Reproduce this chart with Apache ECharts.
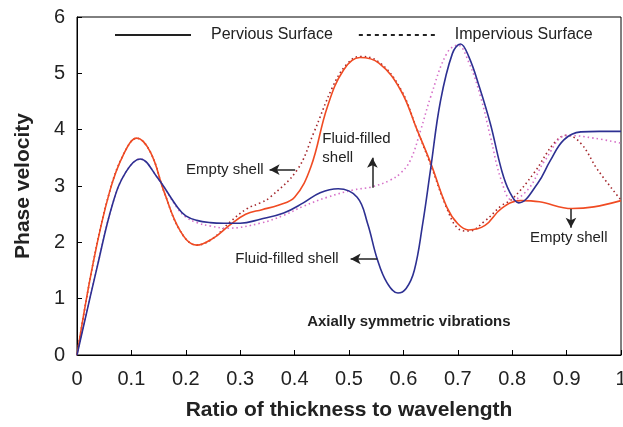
<!DOCTYPE html>
<html><head><meta charset="utf-8">
<script src="https://cdn.jsdelivr.net/npm/echarts@6/dist/echarts.min.js"></script>
<style>html,body{margin:0;padding:0;background:#fff}#c{width:623px;height:427px}</style>
</head><body><div id="c"></div>
<script>
// Pervious surface, empty shell (solid red)
const xPervEmpty = [0, 0.03, 0.06, 0.085, 0.11, 0.135, 0.16, 0.19, 0.22, 0.25, 0.28, 0.31, 0.34, 0.37, 0.40, 0.43, 0.46, 0.49, 0.52, 0.555, 0.595, 0.625, 0.65, 0.68, 0.70, 0.72, 0.75, 0.78, 0.815, 0.85, 0.91, 0.95, 1.0];
const yPervEmpty = [0, 1.65, 2.9, 3.55, 3.85, 3.6, 2.9, 2.2, 1.95, 2.07, 2.3, 2.5, 2.58, 2.66, 2.8, 3.34, 4.4, 5.06, 5.28, 5.18, 4.7, 4.0, 3.41, 2.62, 2.33, 2.22, 2.3, 2.6, 2.74, 2.72, 2.6, 2.63, 2.74];
// Pervious surface, fluid-filled shell (solid blue)
const xPervFluid = [0, 0.037, 0.066, 0.09, 0.116, 0.147, 0.185, 0.2, 0.22, 0.245, 0.27, 0.30, 0.337, 0.38, 0.416, 0.447, 0.48, 0.515, 0.534, 0.552, 0.57, 0.59, 0.605, 0.62, 0.635, 0.65, 0.668, 0.69, 0.705, 0.72, 0.74, 0.76, 0.78, 0.795, 0.812, 0.847, 0.87, 0.895, 0.926, 0.96, 1.0];
const yPervFluid = [0, 1.56, 2.7, 3.25, 3.48, 3.16, 2.62, 2.47, 2.39, 2.35, 2.34, 2.34, 2.41, 2.52, 2.7, 2.88, 2.95, 2.8, 2.34, 1.7, 1.28, 1.1, 1.18, 1.5, 2.3, 3.3, 4.5, 5.35, 5.52, 5.3, 4.75, 4.1, 3.3, 2.9, 2.7, 3.05, 3.45, 3.82, 3.96, 3.97, 3.97];
// Impervious surface, empty shell (dotted dark red)
const xImpEmpty = [0, 0.03, 0.06, 0.085, 0.11, 0.135, 0.16, 0.19, 0.22, 0.25, 0.28, 0.313, 0.337, 0.355, 0.405, 0.435, 0.47, 0.495, 0.52, 0.555, 0.595, 0.625, 0.65, 0.68, 0.70, 0.72, 0.75, 0.78, 0.80, 0.84, 0.877, 0.90, 0.926, 0.957, 1.0];
const yImpEmpty = [0, 1.65, 2.9, 3.55, 3.85, 3.6, 2.9, 2.2, 1.95, 2.07, 2.35, 2.6, 2.7, 2.8, 3.29, 3.94, 4.76, 5.15, 5.3, 5.2, 4.72, 4.0, 3.38, 2.6, 2.25, 2.2, 2.38, 2.65, 2.77, 3.23, 3.76, 3.9, 3.76, 3.29, 2.75];
// Impervious surface, fluid-filled shell (dotted magenta)
const xImpFluid = [0, 0.037, 0.066, 0.09, 0.116, 0.147, 0.185, 0.2, 0.22, 0.245, 0.276, 0.337, 0.38, 0.416, 0.46, 0.508, 0.54, 0.575, 0.595, 0.613, 0.632, 0.65, 0.68, 0.70, 0.72, 0.742, 0.76, 0.78, 0.80, 0.83, 0.86, 0.902, 0.95, 1.0];
const yImpFluid = [0, 1.56, 2.7, 3.25, 3.48, 3.16, 2.6, 2.45, 2.35, 2.29, 2.25, 2.34, 2.48, 2.64, 2.8, 2.93, 2.98, 3.1, 3.23, 3.46, 4.0, 4.58, 5.36, 5.5, 5.2, 4.58, 3.87, 3.1, 2.75, 2.95, 3.45, 3.9, 3.85, 3.76];

const legendNames = ['Pervious Surface', 'Impervious Surface'];

// annotations: text, anchor (data coords), arrow from/to (data coords)
const noteTexts = ['Empty shell', 'Fluid-filled\nshell', 'Fluid-filled shell', 'Empty shell'];
const noteAnchors = [[0.343, 3.29], [0.451, 3.66], [0.481, 1.705], [0.904, 2.08]];
const arrowFrom = [[0.401, 3.29], [0.543, 2.97], [0.552, 1.705], [0.908, 2.59]];
const arrowTo = [[0.354, 3.29], [0.543, 3.5], [0.503, 1.705], [0.908, 2.26]];
const titleNote = 'Axially symmetric vibrations';
const titleAnchor = [0.61, 0.59];

const FONT = '"Liberation Sans", Arial, sans-serif';
const zip = (xs, ys) => xs.map((x, i) => [x, ys[i]]);

const chart = echarts.init(document.getElementById('c'));
const curve = (name, xs, ys, color, type) => ({
  name, type: 'line', data: zip(xs, ys), smooth: 0.4, symbol: 'none',
  lineStyle: { color, width: 1.6, type }, itemStyle: { color }, z: 3, silent: true
});
const legendSeries = (name, type) => ({
  name, type: 'line', data: [], symbol: 'none',
  lineStyle: { color: '#222', width: 1.2, type }, itemStyle: { color: '#222', opacity: 0 }
});

chart.setOption({
  animation: false,
  backgroundColor: '#fff',
  grid: { left: 77, right: 2, top: 17, bottom: 72, show: true, borderColor: '#000', borderWidth: 1,
    outerBoundsMode: 'none', containLabel: false },
  legend: {
    data: legendNames, top: 22, left: 109, itemWidth: 76, itemHeight: 3, itemGap: 25,
    textStyle: { fontFamily: FONT, fontSize: 16, color: '#222', padding: [0, 0, 0, 15] }
  },
  xAxis: {
    type: 'value', min: 0, max: 1, interval: 0.1,
    name: 'Ratio of thickness to wavelength', nameLocation: 'middle', nameGap: 45,
    nameTextStyle: { fontFamily: FONT, fontSize: 21, fontWeight: 'bold', color: '#222' },
    axisLine: { lineStyle: { color: '#000', width: 1 } },
    axisTick: { inside: true, length: 5, lineStyle: { color: '#000' } },
    axisLabel: { fontFamily: FONT, fontSize: 20, color: '#222', margin: 14,
      formatter: v => (Math.round(v * 10) / 10).toString() },
    splitLine: { show: false }
  },
  yAxis: {
    type: 'value', min: 0, max: 6, interval: 1,
    name: 'Phase velocity', nameLocation: 'middle', nameGap: 43,
    nameTextStyle: { fontFamily: FONT, fontSize: 21, fontWeight: 'bold', color: '#222' },
    axisLine: { show: true, lineStyle: { color: '#000', width: 1 } },
    axisTick: { show: true, inside: true, length: 5, lineStyle: { color: '#000' } },
    axisLabel: { fontFamily: FONT, fontSize: 20, color: '#222', margin: 12 },
    splitLine: { show: false }
  },
  series: [
    legendSeries(legendNames[0], 'solid'),
    legendSeries(legendNames[1], [4, 4]),
    curve('Impervious empty', xImpEmpty, yImpEmpty, '#a3262b', [1.5, 3]),
    curve('Impervious fluid', xImpFluid, yImpFluid, '#d670c8', [1.5, 3]),
    curve('Pervious empty', xPervEmpty, yPervEmpty, '#f04b23', 'solid'),
    curve('Pervious fluid', xPervFluid, yPervFluid, '#2d3092', 'solid'),
    {
      name: 'arrows', type: 'line', data: [], silent: true,
      markLine: {
        silent: true, symbol: ['none', 'arrow'], symbolSize: [8, 10], animation: false,
        label: { show: false },
        lineStyle: { color: '#222', width: 1.5, type: 'solid' },
        data: arrowFrom.map((f, i) => [{ coord: f }, { coord: arrowTo[i] }])
      }
    }
  ]
});

const graphics = noteTexts.map((t, i) => {
  const p = chart.convertToPixel({ gridIndex: 0 }, noteAnchors[i]);
  const align = i === 1 ? 'left' : (i === 3 ? 'center' : 'right');
  return { type: 'text', x: p[0], y: p[1], z: 10, silent: true,
    style: { text: t, fontFamily: FONT, fontSize: 15, fill: '#222', align, verticalAlign: 'middle', lineHeight: 19 } };
});
const tp = chart.convertToPixel({ gridIndex: 0 }, titleAnchor);
graphics.push({ type: 'text', x: tp[0], y: tp[1], z: 10, silent: true,
  style: { text: titleNote, fontFamily: FONT, fontSize: 15, fontWeight: 'bold', fill: '#222', align: 'center', verticalAlign: 'middle' } });
chart.setOption({ graphic: graphics });
</script>
</body></html>
